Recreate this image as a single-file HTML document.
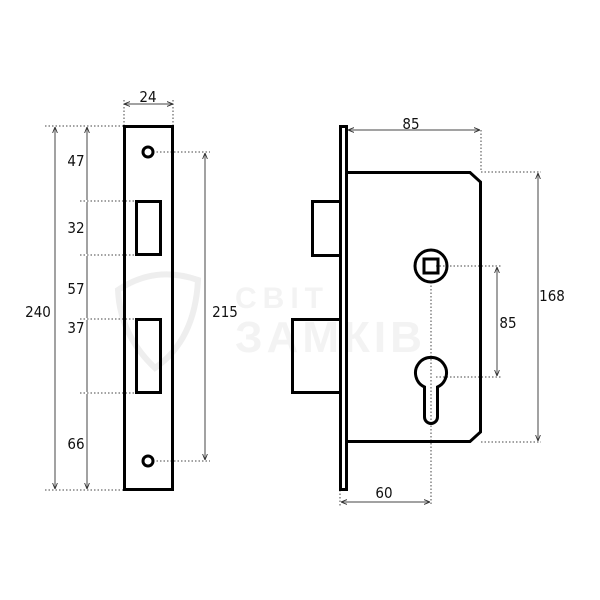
<!DOCTYPE html>
<html><head><meta charset="utf-8"><style>html,body{margin:0;padding:0;background:#fff}svg{display:block}</style></head>
<body>
<svg width="600" height="600" viewBox="0 0 600 600" xmlns="http://www.w3.org/2000/svg" font-family="'DejaVu Sans Condensed','Liberation Sans',sans-serif" font-size="15" fill="#111">
<defs>
<marker id="a" viewBox="0 0 10 10" refX="10" refY="5" markerWidth="6" markerHeight="6" orient="auto-start-reverse"><path d="M0,1 L10,5 L0,9" fill="none" stroke="#333" stroke-width="1.5"/></marker>
</defs>
<g fill="#f3f3f3" font-weight="bold" font-family="'Liberation Sans',sans-serif">
<text x="235" y="308" font-size="30" letter-spacing="6">СВІТ</text>
<text x="235" y="352" font-size="44" letter-spacing="4">ЗАМКІВ</text>
<path d="M118,290 Q155,265 198,280 Q195,340 155,368 Q120,335 118,290Z" fill="none" stroke="#eee" stroke-width="6"/>
</g>
<g stroke="#444" stroke-width="1" stroke-dasharray="1.5,2" fill="none">
<path d="M124,100V126 M173,100V126"/>
<path d="M45,126H124 M45,490H124"/>
<path d="M80,201H136 M80,255H136 M80,319H136 M80,393H136"/>
<path d="M153,152H210 M153,461H210"/>
<path d="M481,130V172 M481,172H541 M481,442H541"/>
<path d="M436,266H502 M436,377H502"/>
<path d="M431,282V505 M340,490V506"/>
</g>
<g stroke="#444" stroke-width="1" fill="none" marker-start="url(#a)" marker-end="url(#a)">
<path d="M124,104H173"/>
<path d="M55,127V489"/>
<path d="M87,127V200 M87,202V254 M87,256V318 M87,320V392 M87,394V489"/>
<path d="M205,153V460"/>
<path d="M348,130H480"/>
<path d="M538,173V441"/>
<path d="M497,267V376"/>
<path d="M341,502H430"/>
</g>
<g fill="none" stroke="#000" stroke-width="3">
<rect x="124.5" y="126.5" width="48" height="363"/>
<circle cx="148" cy="152" r="5"/>
<circle cx="148" cy="461" r="5"/>
<rect x="136.5" y="201.5" width="24" height="53"/>
<rect x="136.5" y="319.5" width="24" height="73"/>
</g>
<g fill="none" stroke="#000" stroke-width="3">
<rect x="340.5" y="126.5" width="6" height="363"/>
<path d="M347,172.5H470L480.5,182V432L470,441.5H347"/>
<path d="M340,201.5H312.5V255.5H340"/>
<path d="M340,319.5H292.5V392.5H340"/>
<circle cx="431" cy="266" r="16"/>
<rect x="424" y="259" width="14" height="14"/>
<path d="M424.5,387 A15.5,15.5 0 1 1 437.5,387 V417 A6.5,6.5 0 0 1 424.5,417 Z"/>
</g>
<g text-anchor="middle">
<text x="148" y="102">24</text>
<text x="38" y="317">240</text>
<text x="225" y="317">215</text>
<text x="76" y="166">47</text>
<text x="76" y="233">32</text>
<text x="76" y="294">57</text>
<text x="76" y="333">37</text>
<text x="76" y="449">66</text>
<text x="411" y="129">85</text>
<text x="552" y="301">168</text>
<text x="508" y="328">85</text>
<text x="384" y="498">60</text>
</g>
</svg>
</body></html>
